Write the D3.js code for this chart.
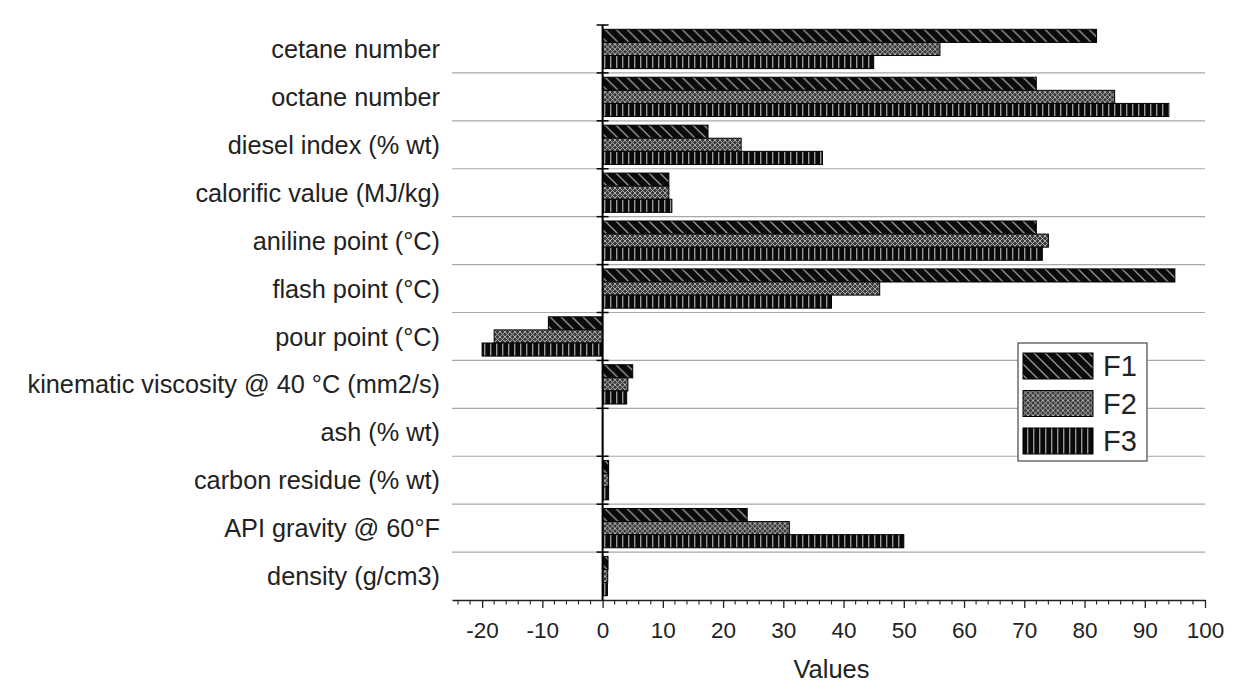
<!DOCTYPE html>
<html>
<head>
<meta charset="utf-8">
<script src="https://cdn.jsdelivr.net/npm/d3@7"></script>
<style>
  body { margin: 0; background: #fff; }
  text { font-family: "Liberation Sans", Arial, sans-serif; fill: #222; }
</style>
</head>
<body>
<svg id="chart" width="1235" height="694"></svg>
<script>
// fuel properties
const categories = [
  "cetane number", "octane number", "diesel index (% wt)", "calorific value (MJ/kg)",
  "aniline point (°C)", "flash point (°C)", "pour point (°C)",
  "kinematic viscosity @ 40 °C (mm2/s)", "ash (% wt)", "carbon residue (% wt)",
  "API gravity @ 60°F", "density (g/cm3)"
];
const seriesNames = ["F1", "F2", "F3"];
const f1 = [82, 72, 17.5, 11, 72, 95, -9, 5, 0.02, 1, 24, 0.9];
const f2 = [56, 85, 23, 11, 74, 46, -18, 4.2, 0.02, 1, 31, 0.85];
const f3 = [45, 94, 36.5, 11.5, 73, 38, -20, 4, 0.02, 1, 50, 0.8];
const xTicks = [-20, -10, 0, 10, 20, 30, 40, 50, 60, 70, 80, 90, 100];

const svg = d3.select("#chart");
const mLeft = 452, mRight = 1205, mTop = 25, mBottom = 600;

const x = d3.scaleLinear().domain([-25, 100]).range([mLeft, mRight]);
const y0 = d3.scaleBand().domain(categories).range([mTop, mBottom])
    .paddingInner(0.18).paddingOuter(0.09);
const y1 = d3.scaleBand().domain(seriesNames).range([0, y0.bandwidth()]);

// fill patterns
const defs = svg.append("defs");
const p1 = defs.append("pattern").attr("id", "pat-F1")
    .attr("patternUnits", "userSpaceOnUse").attr("width", 11).attr("height", 11);
p1.append("rect").attr("width", 11).attr("height", 11).attr("fill", "#0a0a0a");
p1.append("path").attr("d", "M-3,-3 L14,14 M-3,8 L3,14 M8,-3 L14,3")
    .attr("stroke", "#999").attr("stroke-width", 1.3);

const p2 = defs.append("pattern").attr("id", "pat-F2")
    .attr("patternUnits", "userSpaceOnUse").attr("width", 5).attr("height", 5);
p2.append("rect").attr("width", 5).attr("height", 5).attr("fill", "#3a3a3a");
p2.append("path").attr("d", "M0,0 L5,5 M5,0 L0,5")
    .attr("stroke", "#bbb").attr("stroke-width", 0.9);

const p3 = defs.append("pattern").attr("id", "pat-F3")
    .attr("patternUnits", "userSpaceOnUse").attr("width", 6).attr("height", 6);
p3.append("rect").attr("width", 6).attr("height", 6).attr("fill", "#0a0a0a");
p3.append("rect").attr("x", 4).attr("width", 1.4).attr("height", 6).attr("fill", "#999");

// horizontal separators between categories
const bounds = categories.slice(1).map(c => y0(c) - y0.step() * y0.paddingInner() / 2);
svg.append("g").selectAll("line").data(bounds).enter().append("line")
    .attr("x1", mLeft).attr("x2", mRight)
    .attr("y1", d => d).attr("y2", d => d)
    .attr("stroke", "#a8a8a8").attr("stroke-width", 1.2);

// bars
const rows = categories.map((c, i) => ({ cat: c, vals: [f1[i], f2[i], f3[i]] }));
const groups = svg.append("g").selectAll("g").data(rows).enter().append("g")
    .attr("transform", d => `translate(0,${y0(d.cat)})`);
groups.selectAll("rect")
    .data(d => d.vals.map((v, k) => ({ name: seriesNames[k], v: v })))
    .enter().append("rect")
    .attr("x", d => x(Math.min(0, d.v)))
    .attr("y", d => y1(d.name))
    .attr("width", d => Math.abs(x(d.v) - x(0)))
    .attr("height", y1.bandwidth())
    .attr("fill", d => `url(#pat-${d.name})`)
    .attr("stroke", "#000").attr("stroke-width", 1);

// zero line with small ticks
svg.append("line").attr("x1", x(0)).attr("x2", x(0)).attr("y1", mTop).attr("y2", mBottom)
    .attr("stroke", "#000").attr("stroke-width", 2);
svg.append("g").selectAll("line").data([mTop].concat(bounds)).enter().append("line")
    .attr("x1", x(0) - 6).attr("x2", x(0) + 6)
    .attr("y1", d => d).attr("y2", d => d)
    .attr("stroke", "#000").attr("stroke-width", 1.5);

// category labels
svg.append("g").selectAll("text").data(categories).enter().append("text")
    .attr("x", 440).attr("y", d => y0(d) + y0.bandwidth() / 2)
    .attr("dy", "0.36em").attr("text-anchor", "end")
    .attr("font-size", 25.3)
    .text(d => d);

// bottom axis
const xAxis = d3.axisBottom(x).tickValues(xTicks).tickFormat(d => String(d))
    .tickSize(8).tickSizeOuter(0).tickPadding(14);
const ax = svg.append("g").attr("transform", `translate(0,${mBottom})`).call(xAxis);
ax.select(".domain").attr("stroke", "#222").attr("stroke-width", 1.5);
ax.selectAll(".tick line").attr("stroke", "#222").attr("stroke-width", 1.3);
ax.selectAll(".tick text").attr("font-size", 22.5).attr("font-family", "Liberation Sans, Arial, sans-serif").attr("fill", "#333");
const minor = d3.range(-24, 100, 2).filter(v => v % 10 !== 0);
ax.append("g").selectAll("line").data(minor).enter().append("line")
    .attr("x1", d => x(d)).attr("x2", d => x(d)).attr("y1", 0).attr("y2", 4.5)
    .attr("stroke", "#222").attr("stroke-width", 1.1);

svg.append("text").attr("x", x(38)).attr("y", 678).attr("text-anchor", "middle")
    .attr("font-size", 25.5).text("Values");

// legend
const lg = svg.append("g").attr("transform", "translate(1018,343)");
lg.append("rect").attr("width", 129).attr("height", 118)
    .attr("fill", "#fff").attr("stroke", "#555").attr("stroke-width", 1.3);
const items = lg.selectAll("g").data(seriesNames).enter().append("g")
    .attr("transform", (d, i) => `translate(5,${10 + i * 37.5})`);
items.append("rect").attr("width", 70).attr("height", 26)
    .attr("fill", d => `url(#pat-${d})`).attr("stroke", "#000");
items.append("text").attr("x", 80).attr("y", 13).attr("dy", "0.36em")
    .attr("font-size", 29).text(d => d);
</script>
</body>
</html>
